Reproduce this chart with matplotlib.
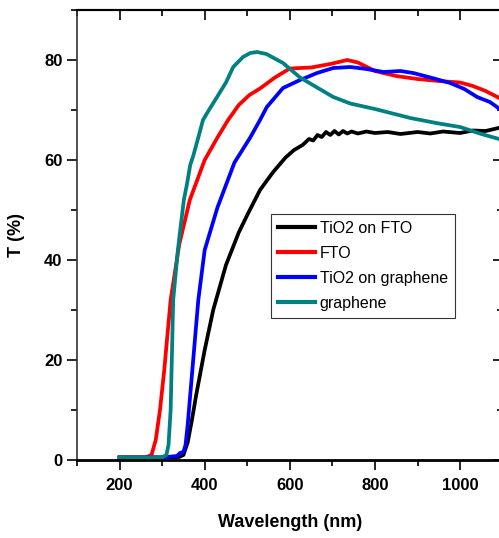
import numpy as np
import matplotlib.pyplot as plt
from matplotlib.ticker import MultipleLocator

plt.rcParams['font.family'] = ['Liberation Sans', 'DejaVu Sans']

# wavelength (nm) / transmittance (%)
wl_tio2_fto = [200, 300, 340, 350, 360, 370, 380, 400, 420, 450, 480, 500, 530, 560, 590, 610,
               630, 645, 655, 665, 675, 685, 695, 705, 715, 725, 735, 745, 760, 780, 800, 830,
               860, 900, 930, 960, 1000, 1030, 1060, 1100]
t_tio2_fto = [0.5, 0.5, 0.6, 1.0, 3.5, 8.0, 13.0, 22.0, 30.0, 39.0, 45.5, 49.0, 54.0, 57.5, 60.5, 62.0,
              63.0, 64.2, 63.9, 65.0, 64.6, 65.6, 65.0, 65.8, 65.1, 65.8, 65.3, 65.7, 65.3, 65.7, 65.4, 65.6,
              65.2, 65.6, 65.3, 65.7, 65.4, 65.9, 65.8, 66.6]

wl_fto = [200, 260, 275, 285, 295, 305, 320, 340, 365, 400, 430, 455, 480, 505, 530, 565, 600,
          650, 695, 735, 760, 800, 850, 900, 950, 1000, 1030, 1060, 1090, 1100]
t_fto = [0.5, 0.5, 1.0, 4.0, 10.0, 18.0, 32.0, 43.0, 52.0, 60.0, 64.5, 68.0, 71.0, 73.0, 74.3, 76.5, 78.3,
         78.5, 79.2, 80.0, 79.5, 77.8, 76.8, 76.2, 75.8, 75.5, 74.8, 73.8, 72.5, 72.0]

wl_tio2_gr = [200, 300, 335, 342, 350, 355, 360, 365, 375, 385, 400, 430, 470, 507, 530, 546, 584,
              624, 664, 702, 742, 780, 820, 860, 890, 930, 977, 1010, 1040, 1070, 1100]
t_tio2_gr = [0.5, 0.5, 0.8, 1.4, 1.6, 3.0, 7.0, 12.0, 22.0, 32.0, 42.0, 50.5, 59.5, 64.5, 68.0, 70.6, 74.4,
             76.0, 77.4, 78.4, 78.6, 78.2, 77.6, 77.8, 77.4, 76.5, 75.4, 74.2, 72.6, 71.6, 69.8]

wl_graphene = [200, 300, 310, 315, 320, 326, 337, 351, 358, 366, 373, 385, 396, 410, 429, 450, 467,
               490, 507, 523, 545, 584, 624, 664, 702, 742, 800, 883, 950, 1000, 1050, 1100]
t_graphene = [0.5, 0.5, 1.0, 3.0, 10.0, 32.0, 42.0, 52.0, 55.0, 59.0, 60.8, 64.5, 68.0, 70.0, 72.6, 75.5, 78.6,
              80.6, 81.4, 81.6, 81.2, 79.4, 76.5, 74.5, 72.6, 71.3, 70.2, 68.4, 67.3, 66.6, 65.2, 64.0]

fig = plt.figure(figsize=(4.99, 5.38), dpi=100)
ax = fig.add_axes([0.1543, 0.145, 0.853, 0.8364])

lw = 2.7
ax.plot(wl_tio2_fto, t_tio2_fto, color='black', lw=lw, label='TiO2 on FTO')
ax.plot(wl_fto, t_fto, color='#ff0000', lw=lw, label='FTO')
ax.plot(wl_tio2_gr, t_tio2_gr, color='#0000ff', lw=lw, label='TiO2 on graphene')
ax.plot(wl_graphene, t_graphene, color='#008080', lw=lw, label='graphene')

ax.set_xlim(100, 1100)
ax.set_ylim(0, 90)
ax.set_xticks([200, 400, 600, 800, 1000])
ax.set_yticks([0, 20, 40, 60, 80])
ax.xaxis.set_minor_locator(MultipleLocator(100))
ax.yaxis.set_minor_locator(MultipleLocator(10))

ax.tick_params(axis='both', which='major', labelsize=12, width=1.2, length=7, direction='out')
ax.tick_params(axis='both', which='minor', width=1.2, length=4, direction='out')
ax.tick_params(axis='x', which='both', top=False)
ax.tick_params(axis='y', which='both', right=False)
ax.tick_params(axis='x', pad=6)
for lab in ax.get_xticklabels() + ax.get_yticklabels():
    lab.set_fontweight('bold')

# top/right ticks point inward
ax2 = ax.secondary_xaxis('top')
ax2.set_xticks([200, 400, 600, 800, 1000])
ax2.xaxis.set_minor_locator(MultipleLocator(100))
ax2.tick_params(which='major', direction='in', length=7, width=1.2, labeltop=False)
ax2.tick_params(which='minor', direction='in', length=4, width=1.2)
ay2 = ax.secondary_yaxis('right')
ay2.set_yticks([0, 20, 40, 60, 80])
ay2.yaxis.set_minor_locator(MultipleLocator(10))
ay2.tick_params(which='major', direction='in', length=7, width=1.2, labelright=False)
ay2.tick_params(which='minor', direction='in', length=4, width=1.2)

ax.spines['bottom'].set_linewidth(2.0)
ax.spines['top'].set_linewidth(1.5)
ax.spines['left'].set_linewidth(1.2)
ax.spines['left'].set_color('#333333')
ax2.spines['top'].set_linewidth(1.5)

ax.set_xlabel('Wavelength (nm)', fontsize=13, fontweight='bold', labelpad=15)
ax.set_ylabel('T (%)', fontsize=13, fontweight='bold', labelpad=14)

leg = ax.legend(loc='upper left', bbox_to_anchor=(0.456, 0.547), fontsize=11.5,
                frameon=True, fancybox=False, edgecolor='black', handlelength=2.3,
                handletextpad=0.3, borderpad=0.45, labelspacing=0.62, borderaxespad=0)
leg.get_frame().set_linewidth(0.8)
for line in leg.get_lines():
    line.set_linewidth(3)

fig.savefig('out.png', dpi=100)
